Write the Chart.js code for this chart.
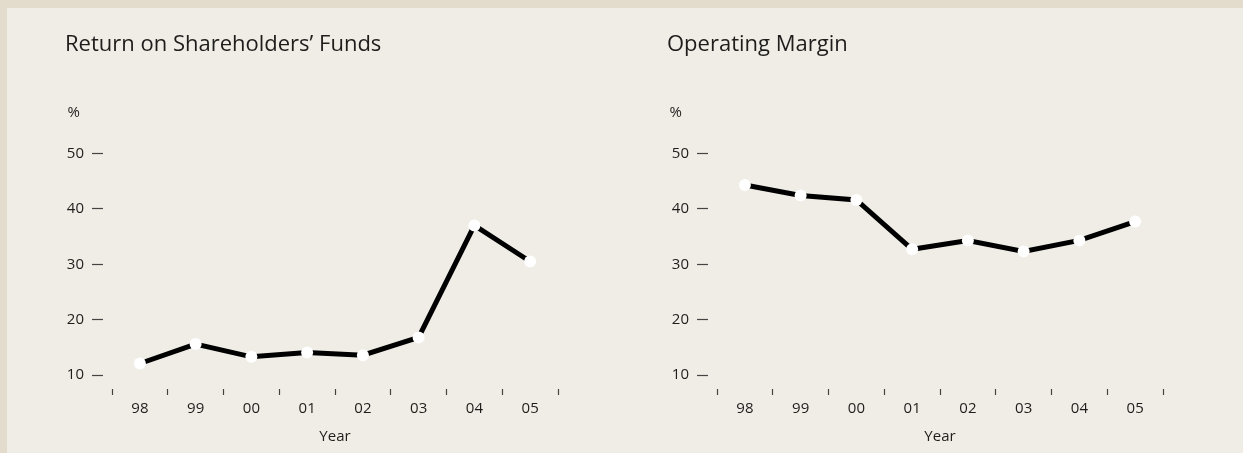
<!DOCTYPE html>
<html>
<head>
<meta charset="utf-8">
<script src="https://cdn.jsdelivr.net/npm/chart.js@4.4.0/dist/chart.umd.min.js"></script>
<style>
  html, body { margin: 0; padding: 0; }
  body { background: #e3dccd; width: 1243px; height: 453px; overflow: hidden; position: relative; }
  .panel { position: absolute; left: 7px; top: 8px; width: 1236px; height: 445px; background: #f0ede6; }
  .box { position: absolute; top: 0; width: 605px; height: 445px; }
  #boxA { left: 0; }
  #boxB { left: 605px; }
</style>
</head>
<body>
<div class="panel">
  <div class="box" id="boxA"><canvas id="chartA"></canvas></div>
  <div class="box" id="boxB"><canvas id="chartB"></canvas></div>
</div>
<script>
var years = ["98", "99", "00", "01", "02", "03", "04", "05"];
var returnOnFunds = [12.1, 15.6, 13.3, 14.1, 13.6, 16.8, 37.0, 30.5];
var operatingMargin = [44.3, 42.4, 41.6, 32.7, 34.3, 32.3, 34.3, 37.7];
var yTicks = [10, 20, 30, 40, 50];

var FONT = "'Open Sans', 'Noto Sans', sans-serif";
var TEXT = '#1f1d1c';

function makeChart(id, title, values, padLeft) {
  var ctx = document.getElementById(id);
  return new Chart(ctx, {
    type: 'line',
    data: {
      labels: years,
      datasets: [{
        data: values,
        borderColor: '#000',
        borderWidth: 5,
        tension: 0,
        pointRadius: 6,
        pointBackgroundColor: '#fff',
        pointBorderWidth: 0,
        clip: false
      }]
    },
    options: {
      responsive: true,
      maintainAspectRatio: false,
      animation: false,
      events: [],
      layout: { padding: { left: padLeft, right: 54, top: 0, bottom: 7 } },
      plugins: {
        legend: { display: false },
        tooltip: { enabled: false },
        title: {
          display: true,
          text: title,
          align: 'start',
          color: TEXT,
          font: { family: FONT, size: 22, weight: 'normal' },
          padding: { top: 24, bottom: 0 }
        },
        subtitle: {
          display: true,
          text: '\u2009%',
          align: 'start',
          color: TEXT,
          font: { family: FONT, size: 15, weight: 'normal' },
          padding: { top: 45, bottom: 32 }
        }
      },
      scales: {
        x: {
          offset: true,
          border: { display: false },
          grid: {
            offset: true,
            drawOnChartArea: false,
            tickLength: 6,
            tickColor: '#444',
            tickWidth: 1.2
          },
          ticks: {
            color: TEXT,
            padding: 5,
            font: { family: FONT, size: 15 },
            maxRotation: 0
          },
          title: {
            display: true,
            text: 'Year',
            color: TEXT,
            font: { family: FONT, size: 15 },
            padding: { top: 5, bottom: 0 }
          }
        },
        y: {
          min: 7.5,
          max: 50,
          afterBuildTicks: function(scale) {
            scale.ticks = yTicks.map(function(v) { return { value: v }; });
          },
          afterFit: function(scale) { scale.width = 105 - padLeft; },
          border: { display: false },
          grid: {
            drawOnChartArea: false,
            tickLength: 20,
            tickBorderDash: [11, 9],
            tickColor: '#444',
            tickWidth: 1.2
          },
          ticks: {
            color: TEXT,
            padding: 8,
            font: { family: FONT, size: 15 }
          }
        }
      }
    }
  });
}

makeChart('chartA', 'Return on Shareholders\u2019 Funds', returnOnFunds, 58);
makeChart('chartB', 'Operating Margin', operatingMargin, 55);
</script>
</body>
</html>
